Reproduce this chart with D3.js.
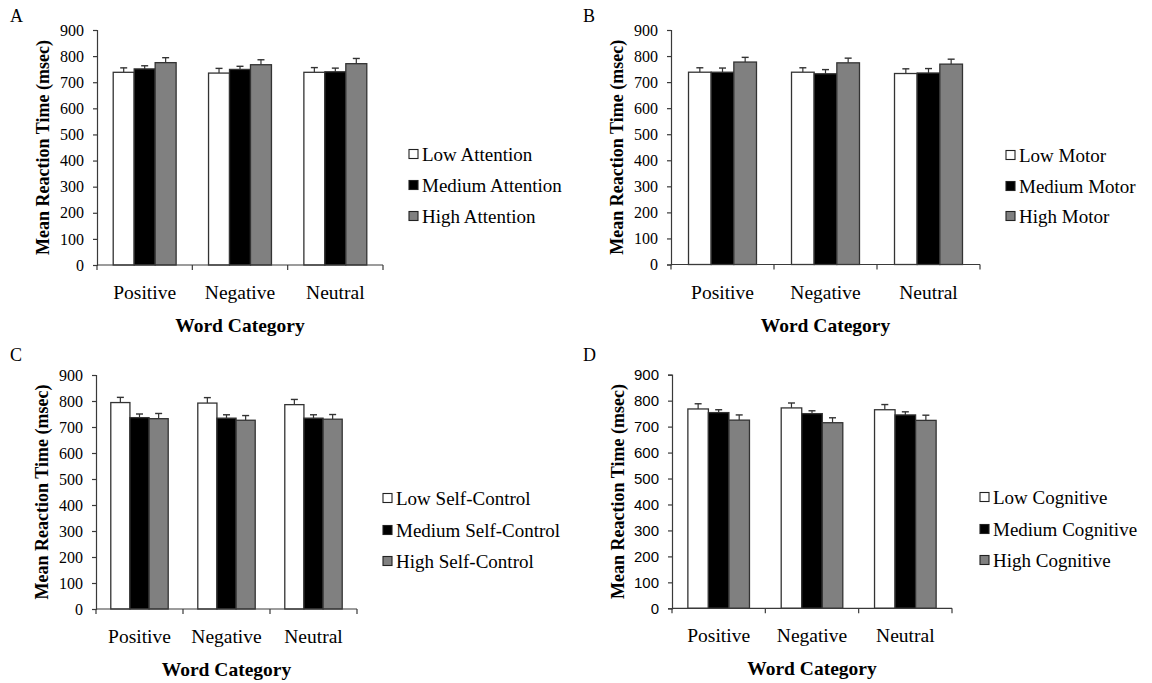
<!DOCTYPE html>
<html><head><meta charset="utf-8">
<script src="https://cdn.jsdelivr.net/npm/d3@7"></script>
<style>body{margin:0;background:#fff}svg{display:block}</style>
</head><body>
<svg id="chart" width="1152" height="683"></svg>
<script>
// ---------- data ----------
const categories = ["Positive", "Negative", "Neutral"];
const yTicks = [0, 100, 200, 300, 400, 500, 600, 700, 800, 900];
const levels = ["Low", "Medium", "High"];

const attentionLabels = ["Low Attention", "Medium Attention", "High Attention"];
const attentionMeans = [[738, 735, 738], [751, 749, 740], [775, 767, 771]];
const attentionErrors = [[17, 18, 18], [12, 12, 14], [19, 19, 20]];

const motorLabels = ["Low Motor", "Medium Motor", "High Motor"];
const motorMeans = [[738, 738, 733], [738, 732, 735], [777, 774, 769]];
const motorErrors = [[17, 17, 18], [16, 16, 17], [18, 18, 19]];

const selfControlLabels = ["Low Self-Control", "Medium Self-Control", "High Self-Control"];
const selfControlMeans = [[794, 792, 786], [736, 734, 734], [732, 726, 730]];
const selfControlErrors = [[20, 21, 20], [14, 13, 13], [20, 18, 18]];

const cognitiveLabels = ["Low Cognitive", "Medium Cognitive", "High Cognitive"];
const cognitiveMeans = [[768, 772, 765], [754, 750, 745], [725, 715, 724]];
const cognitiveErrors = [[20, 19, 20], [11, 11, 12], [20, 19, 20]];

// ---------- layout ----------
const fills = ["#ffffff", "#000000", "#808080"];
const serif = "'Liberation Serif','Times New Roman',serif";
const sans = "'Liberation Sans',Arial,sans-serif";

const panels = [
  {letter: "A", lx: 10, ly: 22, left: 97, right: 383, top: 30, bottom: 265, labels: attentionLabels, means: attentionMeans, errs: attentionErrors, legX: 409, legY: [154, 185, 216], tickFont: serif},
  {letter: "B", lx: 583, ly: 22, left: 671, right: 980, top: 30, bottom: 264.5, labels: motorLabels, means: motorMeans, errs: motorErrors, legX: 1006, legY: [155, 186, 216], tickFont: serif},
  {letter: "C", lx: 10, ly: 361, left: 96, right: 357, top: 375, bottom: 609, labels: selfControlLabels, means: selfControlMeans, errs: selfControlErrors, legX: 383, legY: [498, 530, 561], tickFont: serif},
  {letter: "D", lx: 583, ly: 361, left: 672, right: 952, top: 374.7, bottom: 608.3, labels: cognitiveLabels, means: cognitiveMeans, errs: cognitiveErrors, legX: 980, legY: [497, 529, 560], tickFont: sans}
];

const svg = d3.select("#chart");
const axisColor = "#3a3a3a";

panels.forEach(p => {
  const g = svg.append("g");
  g.append("text").attr("x", p.lx).attr("y", p.ly)
    .attr("font-family", serif).attr("font-size", 18).text(p.letter);

  const y = d3.scaleLinear().domain([0, 900]).range([p.bottom, p.top]);
  const x0 = d3.scaleBand().domain(categories).range([p.left, p.right]).padding(0);
  const bw = x0.bandwidth();
  const x1 = d3.scaleBand().domain(levels).range([bw * 0.17, bw * 0.83]).padding(0);

  // bars
  levels.forEach((lev, si) => {
    categories.forEach((cat, ci) => {
      const v = p.means[si][ci], e = p.errs[si][ci];
      const bx = x0(cat) + x1(lev);
      const cx = bx + x1.bandwidth() / 2;
      g.append("line").attr("x1", cx).attr("x2", cx).attr("y1", y(v)).attr("y2", y(v + e))
        .attr("stroke", "#333").attr("stroke-width", 1.2);
      g.append("line").attr("x1", cx - 3.5).attr("x2", cx + 3.5).attr("y1", y(v + e)).attr("y2", y(v + e))
        .attr("stroke", "#333").attr("stroke-width", 1.4);
      g.append("rect").attr("x", bx).attr("y", y(v)).attr("width", x1.bandwidth()).attr("height", y(0) - y(v))
        .attr("fill", fills[si]).attr("stroke", "#333").attr("stroke-width", 1.3);
    });
  });

  // y axis
  const ya = g.append("g").attr("transform", `translate(${p.left},0)`)
    .call(d3.axisLeft(y).tickValues(yTicks).tickSize(4).tickPadding(9));
  ya.select(".domain").attr("stroke", axisColor).attr("stroke-width", 1.2);
  ya.selectAll(".tick line").attr("stroke", axisColor).attr("stroke-width", 1.2);
  ya.selectAll(".tick text").attr("font-family", p.tickFont).attr("font-size", p.tickFont === sans ? 15 : 16).attr("fill", "#000");

  // x axis
  const xa = g.append("g").attr("transform", `translate(0,${p.bottom})`);
  xa.append("line").attr("x1", p.left).attr("x2", p.right).attr("y1", 0).attr("y2", 0)
    .attr("stroke", axisColor).attr("stroke-width", 1.2);
  const bounds = categories.map(c => x0(c)).concat([x0(categories[categories.length - 1]) + bw]);
  bounds.forEach(bx => xa.append("line").attr("x1", bx).attr("x2", bx).attr("y1", 0).attr("y2", 5)
    .attr("stroke", axisColor).attr("stroke-width", 1.2));
  categories.forEach(c => xa.append("text").attr("x", x0(c) + bw / 2).attr("y", 34)
    .attr("text-anchor", "middle").attr("font-family", serif).attr("font-size", 19.5).text(c));
  xa.append("text").attr("x", (p.left + p.right) / 2).attr("y", 67)
    .attr("text-anchor", "middle").attr("font-family", serif).attr("font-weight", "bold")
    .attr("font-size", 19.5).text("Word Category");

  // y title
  g.append("text").attr("transform", `translate(${p.left - 54},${(p.top + p.bottom) / 2}) rotate(-90)`)
    .attr("text-anchor", "middle").attr("dy", "0.35em").attr("font-family", serif).attr("font-weight", "bold")
    .attr("font-size", 18).text("Mean Reaction Time (msec)");

  // legend
  p.labels.forEach((lab, i) => {
    g.append("rect").attr("x", p.legX).attr("y", p.legY[i] - 4.5).attr("width", 9).attr("height", 9)
      .attr("fill", fills[i]).attr("stroke", "#222").attr("stroke-width", 1.1);
    g.append("text").attr("x", p.legX + 13).attr("y", p.legY[i]).attr("dy", "0.35em")
      .attr("font-family", serif).attr("font-size", 19).text(lab);
  });
});
</script>
</body></html>
